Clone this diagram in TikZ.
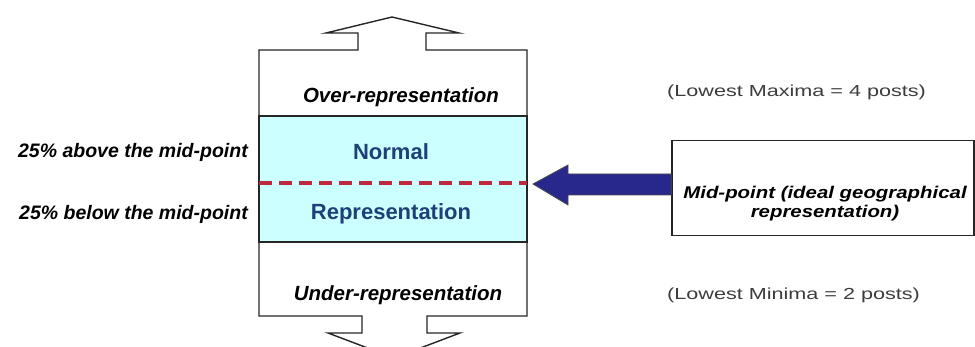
\documentclass[tikz,border=0pt]{standalone}
\usepackage{graphicx}
\usepackage{fontspec}
\setmainfont{Liberation Sans}
\usetikzlibrary{calc}
\definecolor{bandcyan}{RGB}{204,255,255}
\definecolor{bandtext}{RGB}{31,63,120}
\definecolor{dashred}{RGB}{190,40,60}
\definecolor{arrowblue}{RGB}{40,40,140}
\definecolor{postgray}{RGB}{60,60,60}
\newcommand{\widetxt}[2]{\scalebox{#1}[1]{#2}}

\begin{document}
\begin{tikzpicture}
[x=1pt,y=-1pt,
  outlineDecorate/.style={draw=black!85,line width=1.4pt,line join=miter},%
  labelDecorate/.style={font=\bfseries\itshape\fontsize{20.5}{24}\selectfont,inner sep=0pt},%
  bandDecorate/.style={font=\bfseries\fontsize{22}{26}\selectfont,text=bandtext,inner sep=0pt},%
  sideDecorate/.style={font=\bfseries\itshape\fontsize{19.5}{24}\selectfont,inner sep=0pt,anchor=east},%
  postDecorate/.style={font=\fontsize{16}{19}\selectfont,text=postgray,inner sep=0pt,anchor=west}]
\useasboundingbox (0,0) rectangle (975,347);
\clip (0,0) rectangle (975,347);
%% outer box with the two hollow arrows
\draw[outlineDecorate,fill=white]
  (259,50) -- (358,50) -- (358,33) -- (326,33) -- (392,17) -- (459,33)
  -- (426,33) -- (426,50) -- (527,50) -- (527,316) -- (427,316) -- (427,333)
  -- (460,333) -- (394,358) -- (328,333) -- (362,333) -- (362,316)
  -- (259,316) -- cycle;
%% normal band
\draw[outlineDecorate,fill=bandcyan] (259,116) rectangle (527,242);
\coordinate (dashL) at (259,183);
\coordinate (dashR) at (527,183);
\draw[dashred,line width=3.2pt,dash pattern=on 13pt off 7pt] (dashL) -- (dashR);
%% texts
\node (over) at (401,97) [labelDecorate] {Over-representation};
\node (under) at (398,295) [labelDecorate] {Under-representation};
\foreach \nodename/\y/\txt in {normal/152/Normal, repr/214/Representation}
{
  \node (\nodename) at (391,\y) [bandDecorate] {\txt};
}
\foreach \nodename/\y/\txt in {above/152/above, below/214/below}
{
  \node (\nodename) at (248,\y) [sideDecorate] {25\% \txt\ the mid-point};
}
\node (maxima) at (667,92) [postDecorate] {\widetxt{1.35}{(Lowest Maxima = 4 posts)}};
\node (minima) at (667,295) [postDecorate] {\widetxt{1.35}{(Lowest Minima = 2 posts)}};
%% mid-point box and arrow
\node (mid) at (823,188) [outlineDecorate,minimum width=302pt,minimum height=95pt] {};
\node (midtxt) at (825,204) [inner sep=0pt,align=center,
  font=\bfseries\itshape\fontsize{17}{19}\selectfont]
  {\widetxt{1.2}{Mid-point (ideal geographical}\\\widetxt{1.2}{representation)}};
\coordinate (tip) at (533,184);
\draw[fill=arrowblue,draw=black!70,line width=0.8pt,line join=miter]
  (tip) -- ++(35,-19) -- ++(0,9) -- ($(mid.west |- tip)+(0,-10)$)
  -- ($(mid.west |- tip)+(0,11)$) -- ($(tip)+(35,11)$) -- ($(tip)+(35,21)$) -- cycle;
\end{tikzpicture}
\end{document}
